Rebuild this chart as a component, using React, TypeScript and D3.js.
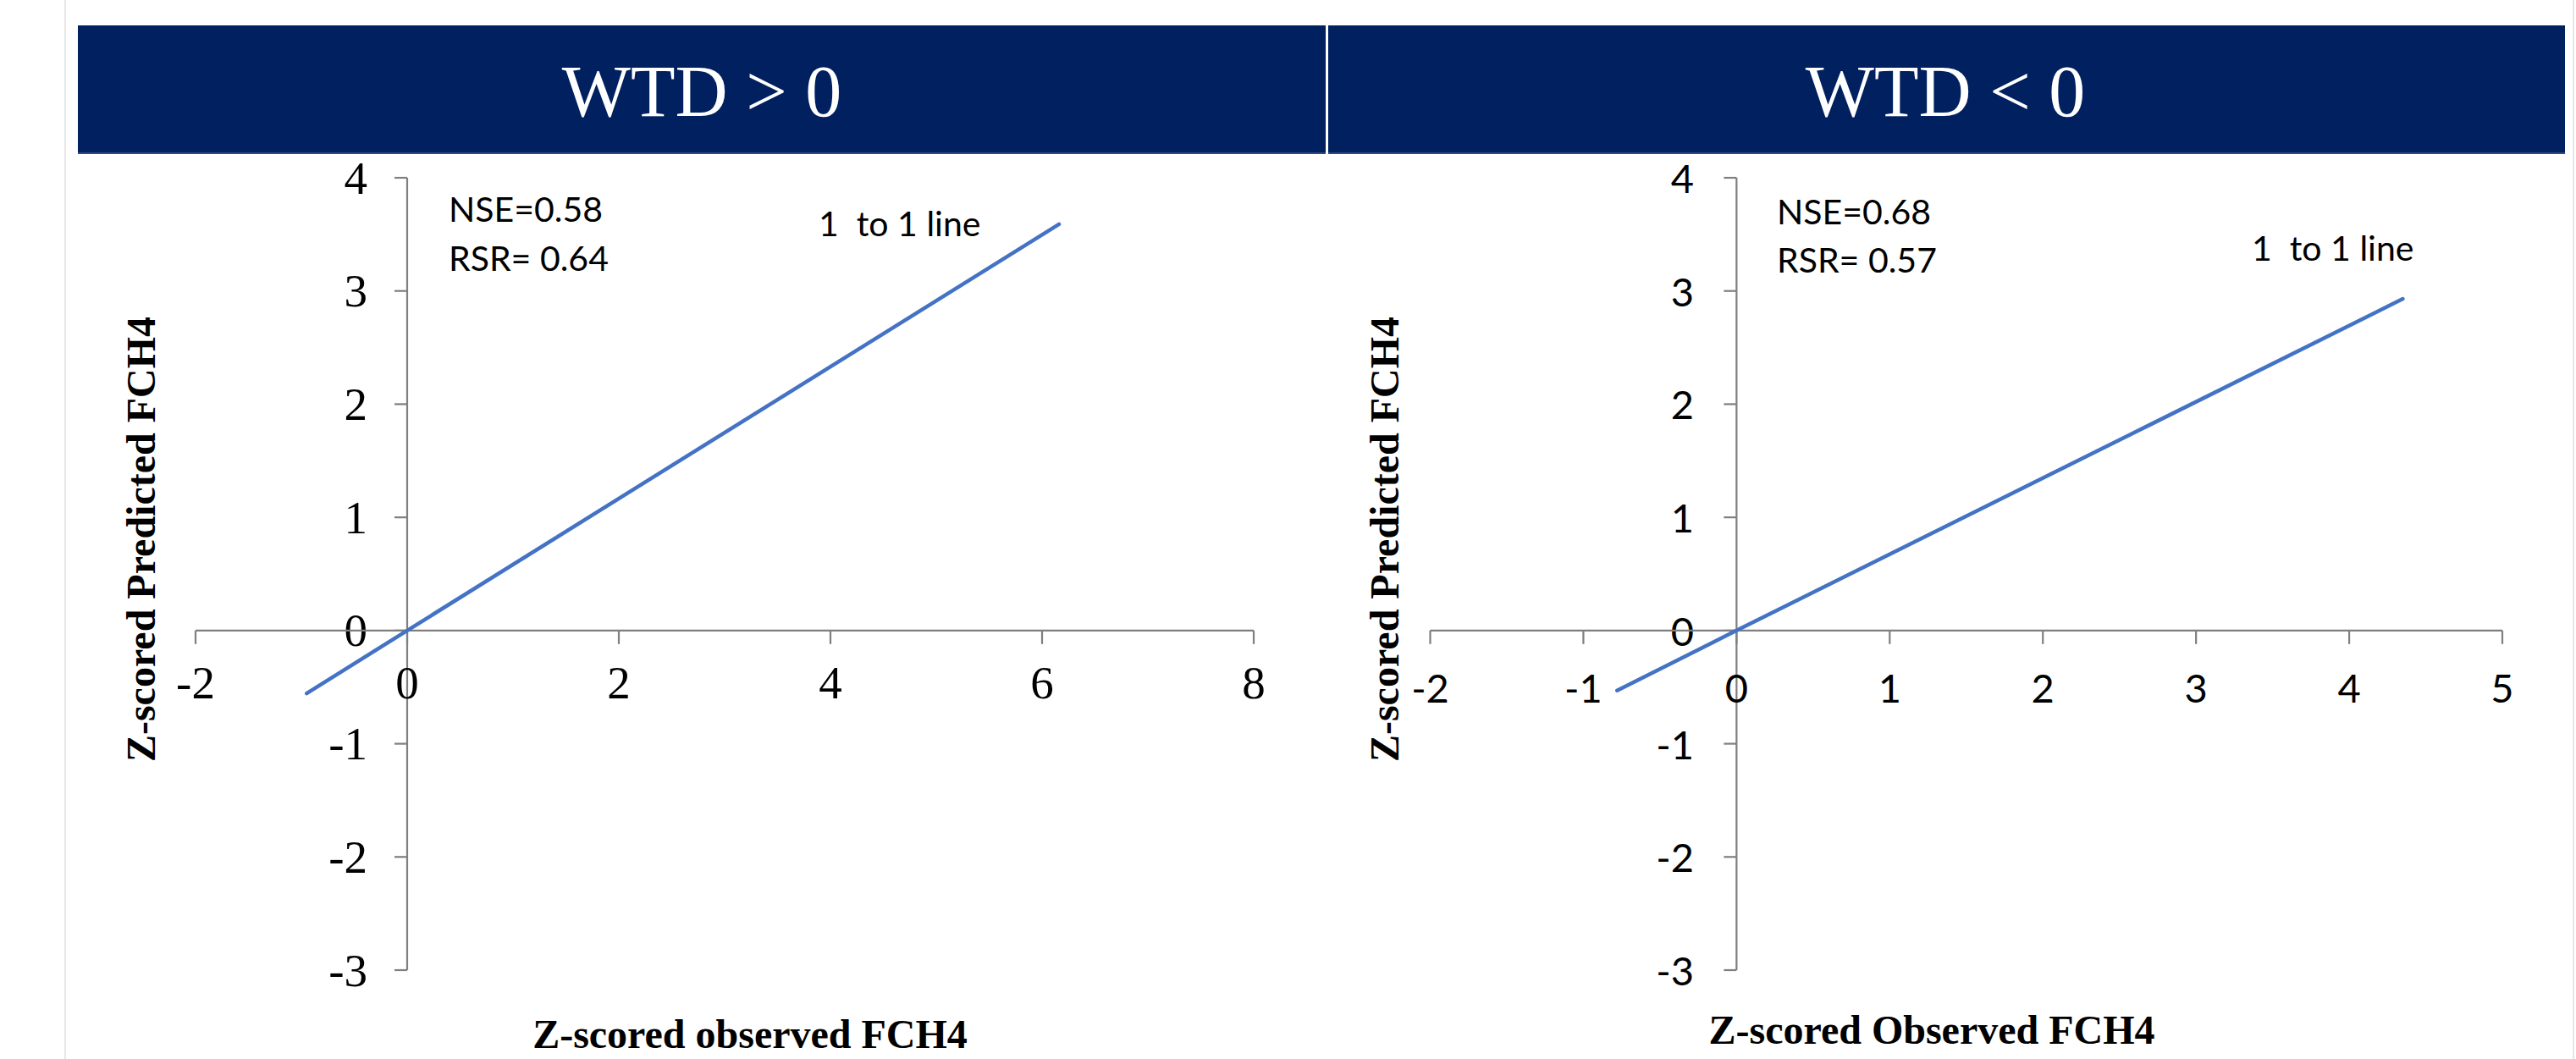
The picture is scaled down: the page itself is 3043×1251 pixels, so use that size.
import React from 'react';
import * as d3 from 'd3';

// ---------- data ----------
const panelTitles = ['WTD > 0', 'WTD < 0'];
const leftXTicks = [-2, 0, 2, 4, 6, 8];
const rightXTicks = [-2, -1, 0, 1, 2, 3, 4, 5];
const yTicks = [-3, -2, -1, 0, 1, 2, 3, 4];
const leftLineX = [-0.95, 0, 6.16];
const leftLineY = [-0.555, 0, 3.59];
const rightLineX = [-0.78, 0, 4.35];
const rightLineY = [-0.53, 0, 2.93];
const leftStats = ['NSE=0.58', 'RSR= 0.64'];
const rightStats = ['NSE=0.68', 'RSR= 0.57'];
const lineLabel = '1  to 1 line';
const yTitle = 'Z-scored Predicted FCH4';
const leftXTitle = 'Z-scored observed FCH4';
const rightXTitle = 'Z-scored Observed FCH4';

const W = 3043;
const H = 1251;
const SERIF = '"Liberation Serif", "Times New Roman", serif';
const SANS = 'Lato, "Open Sans", sans-serif';
const AXIS = '#7f7f7f';
const BLUE = '#4472C4';

type Panel = {
  xDomain: [number, number];
  xRange: [number, number];
  xTicks: number[];
  lx: number[];
  ly: number[];
  stats: string[];
  xTitle: string;
  tickFont: string;
  tickSize: number;
  yLabelRight: number;
  xLabelBaseline: number;
  statsX: number;
  statsY: number[];
  lineLabelX: number;
  lineLabelY: number;
  yTitleX: number;
  yTitleY: number;
  xTitleX: number;
  xTitleY: number;
};

const panels: Panel[] = [
  {
    xDomain: [-2, 8], xRange: [231, 1481], xTicks: leftXTicks,
    lx: leftLineX, ly: leftLineY, stats: leftStats, xTitle: leftXTitle,
    tickFont: SERIF, tickSize: 55, yLabelRight: 434, xLabelBaseline: 825,
    statsX: 530, statsY: [262, 320], lineLabelX: 967, lineLabelY: 279,
    yTitleX: 183, yTitleY: 637, xTitleX: 886, xTitleY: 1238,
  },
  {
    xDomain: [-2, 5], xRange: [1689.5, 2956], xTicks: rightXTicks,
    lx: rightLineX, ly: rightLineY, stats: rightStats, xTitle: rightXTitle,
    tickFont: SANS, tickSize: 47, yLabelRight: 2001, xLabelBaseline: 830,
    statsX: 2099, statsY: [265, 322], lineLabelX: 2660, lineLabelY: 308,
    yTitleX: 1652, yTitleY: 637, xTitleX: 2282, xTitleY: 1233,
  },
];

const y = d3.scaleLinear().domain([-3, 4]).range([1146, 210]);

function PanelView({ p }: { p: Panel }) {
  const x = d3.scaleLinear().domain(p.xDomain).range(p.xRange);
  const pts: [number, number][] = p.lx.map((v, i) => [v, p.ly[i]]);
  const line = d3.line<[number, number]>().x(d => x(d[0])).y(d => y(d[1]));
  const x0 = x(0);
  const y0 = y(0);
  return (
    <g>
      {/* y axis */}
      <line x1={x0} x2={x0} y1={y(4)} y2={y(-3)} stroke={AXIS} strokeWidth={2.2} />
      {yTicks.map(t => (
        <g key={'y' + t}>
          <line x1={x0 - 15} x2={x0} y1={y(t)} y2={y(t)} stroke={AXIS} strokeWidth={2.2} />
          <text x={p.yLabelRight} y={y(t)} textAnchor="end" dominantBaseline="central"
            fontFamily={p.tickFont} fontSize={p.tickSize} fill="#000">{t < 0 ? '-' + Math.abs(t) : t}</text>
        </g>
      ))}
      {/* x axis */}
      <line x1={p.xRange[0]} x2={p.xRange[1]} y1={y0} y2={y0} stroke={AXIS} strokeWidth={2.2} />
      {p.xTicks.map(t => (
        <g key={'x' + t}>
          <line x1={x(t)} x2={x(t)} y1={y0} y2={y0 + 16} stroke={AXIS} strokeWidth={2.2} />
          <text x={x(t)} y={p.xLabelBaseline} textAnchor="middle"
            fontFamily={p.tickFont} fontSize={p.tickSize} fill="#000">{t < 0 ? '-' + Math.abs(t) : t}</text>
        </g>
      ))}
      {/* line */}
      <path d={line(pts) || ''} fill="none" stroke={BLUE} strokeWidth={4.5} strokeLinecap="round" />
      {/* annotations */}
      {p.stats.map((s, i) => (
        <text key={s} x={p.statsX} y={p.statsY[i]} fontFamily={SANS} fontSize={41} fill="#000"
          style={{ whiteSpace: 'pre' }}>{s}</text>
      ))}
      <text x={p.lineLabelX} y={p.lineLabelY} fontFamily={SANS} fontSize={41} fill="#000"
        style={{ whiteSpace: 'pre' }}>{lineLabel}</text>
      {/* axis titles */}
      <text transform={`translate(${p.yTitleX},${p.yTitleY}) rotate(-90)`} textAnchor="middle"
        fontFamily={SERIF} fontWeight="bold" fontSize={48} fill="#000">{yTitle}</text>
      <text x={p.xTitleX} y={p.xTitleY} textAnchor="middle"
        fontFamily={SERIF} fontWeight="bold" fontSize={48} fill="#000">{p.xTitle}</text>
    </g>
  );
}

export default function App() {
  const bands = [
    { x0: 92, x1: 1566, cx: 829 },
    { x0: 1569, x1: 3030, cx: 2298 },
  ];
  return (
    <svg width={W} height={H} viewBox={`0 0 ${W} ${H}`}
      style={{ position: 'absolute', left: 0, top: 0, background: '#fff' }}>
      <rect x={0} y={0} width={W} height={H} fill="#fff" />
      <line x1={77} x2={77} y1={0} y2={H} stroke="#e6e6e6" strokeWidth={2} />
      <line x1={3040} x2={3040} y1={0} y2={H} stroke="#e6e6e6" strokeWidth={2} />
      {bands.map((b, i) => (
        <g key={i}>
          <rect x={b.x0} y={30} width={b.x1 - b.x0} height={152} fill="#002060" />
          <line x1={b.x0} x2={b.x1} y1={181} y2={181} stroke="#3b5a8f" strokeWidth={1.5} />
          <text x={b.cx} y={137} textAnchor="middle" fontFamily={SERIF} fontSize={86} fill="#fff">
            {panelTitles[i]}
          </text>
        </g>
      ))}
      {panels.map((p, i) => <PanelView key={i} p={p} />)}
    </svg>
  );
}
